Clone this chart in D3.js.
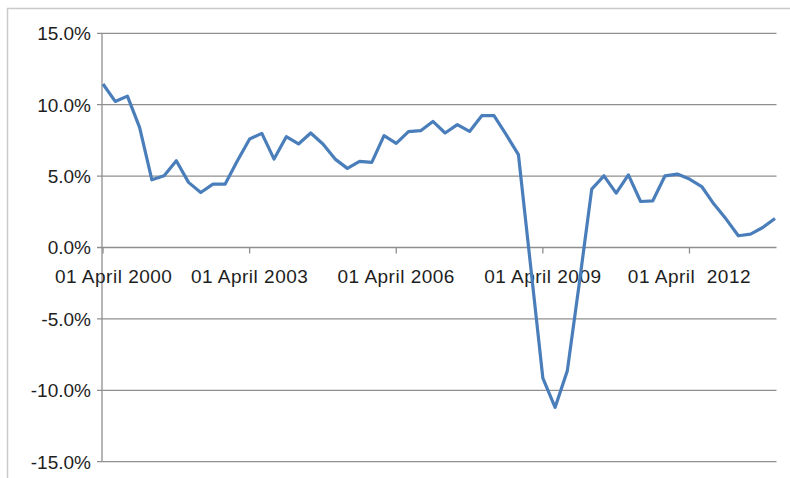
<!DOCTYPE html>
<html>
<head>
<meta charset="utf-8">
<script src="https://cdn.jsdelivr.net/npm/d3@7"></script>
<style>
  body { margin: 0; background: #fff; }
  svg { display: block; font-family: 'Liberation Sans', Arial, sans-serif; }
</style>
</head>
<body>
<svg id="chart" width="790" height="478"></svg>
<script>
// quarterly growth rate, April 2000 .. January 2014
const months = ['April', 'July', 'October', 'January']
const categories = d3.range(56).map(i => {
  const year = 2000 + Math.floor((i + 1) / 4)
  return `01 ${months[i % 4]} ${year}`
})
const values = [
  11.45, 10.23, 10.6, 8.4, 4.74, 5.02, 6.08, 4.56, 3.85, 4.44,
  4.44, 6.08, 7.6, 7.99, 6.19, 7.76, 7.25, 8.02, 7.25, 6.19,
  5.54, 6.03, 5.96, 7.83, 7.29, 8.11, 8.18, 8.83, 8.02, 8.6,
  8.13, 9.23, 9.23, 7.9, 6.5, -1.3, -9.15, -11.2, -8.64, -2.4,
  4.09, 5.02, 3.81, 5.09, 3.22, 3.27, 5.02, 5.14, 4.79, 4.27,
  3.04, 1.99, 0.82, 0.94, 1.4, 2.03
]
const yTicks = [-15, -10, -5, 0, 5, 10, 15]
// every third April gets a label (Excel interval of 12)
const tickLabels = ['01 April 2000', '01 April 2003', '01 April 2006', '01 April 2009', '01 April  2012']

const svg = d3.select('#chart')

// outer chart frame, cut off at right and bottom like the screenshot
svg.append('rect')
  .attr('x', 7.5).attr('y', 8.5)
  .attr('width', 800).attr('height', 490)
  .attr('fill', 'none')
  .attr('stroke', '#cacaca')
  .attr('stroke-width', 1.5)

const plotLeft = 102
const plotRight = 776.5
const x = d3.scalePoint().domain(categories).range([103, 775])
const y = d3.scaleLinear().domain([-15, 15]).range([461.7, 33.3])

// horizontal gridlines + small ticks to the left
const grid = svg.append('g').attr('class', 'grid')
grid.selectAll('line')
  .data(yTicks)
  .enter().append('line')
  .attr('x1', plotLeft - 5)
  .attr('x2', plotRight)
  .attr('y1', d => y(d))
  .attr('y2', d => y(d))
  .attr('stroke', '#8f8f8f')
  .attr('stroke-width', 1.3)

// vertical axis line
svg.append('line')
  .attr('x1', plotLeft).attr('x2', plotLeft)
  .attr('y1', y(15)).attr('y2', y(-15))
  .attr('stroke', '#8f8f8f')
  .attr('stroke-width', 1.3)

// y labels, plain hyphen for negatives like Excel
const pct = d3.format('.1f')
svg.append('g').selectAll('text')
  .data(yTicks)
  .enter().append('text')
  .attr('x', 91)
  .attr('y', d => y(d))
  .attr('dy', '0.36em')
  .attr('text-anchor', 'end')
  .attr('font-size', 19)
  .attr('fill', '#1e1e1e')
  .text(d => pct(d).replace('\u2212', '-') + '%')

// category ticks on the zero line
const labelled = categories.filter((c, i) => i % 12 === 0)
svg.append('g').selectAll('line')
  .data(labelled)
  .enter().append('line')
  .attr('x1', d => x(d)).attr('x2', d => x(d))
  .attr('y1', y(0)).attr('y2', y(0) + 6)
  .attr('stroke', '#8f8f8f')
  .attr('stroke-width', 1.3)

const xLabels = svg.append('g').selectAll('text')
  .data(labelled)
  .enter().append('text')
  .attr('y', 283)
  .attr('text-anchor', 'start')
  .attr('font-size', 19)
  .attr('letter-spacing', 0.5)
  .attr('fill', '#1e1e1e')
  .style('white-space', 'pre')
  .text((d, i) => tickLabels[i])
// centre each label on its tick but keep it inside the chart on the left
xLabels.attr('x', function (d) {
  const w = this.getComputedTextLength()
  return Math.max(x(d) - w / 2, 55)
})

// the series
const line = d3.line()
  .x((d, i) => x(categories[i]))
  .y(d => y(d))
svg.append('path')
  .datum(values)
  .attr('d', line)
  .attr('fill', 'none')
  .attr('stroke', '#4a7ebb')
  .attr('stroke-width', 3.2)
  .attr('stroke-linejoin', 'round')
</script>
</body>
</html>
